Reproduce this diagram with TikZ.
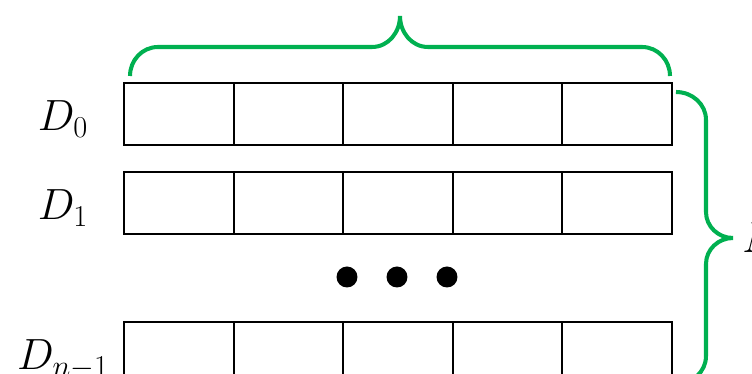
\documentclass[tikz,border=0pt]{standalone}
\usepackage{amsmath}
\definecolor{bracegreen}{RGB}{0,176,80}
\begin{document}
\begin{tikzpicture}[
  x=0.02cm, y=-0.02cm,
  font=\fontsize{26}{30}\selectfont,
  cell/.style  = {draw=black, line width=1.1pt, minimum width=2.192cm, minimum height=1.24cm, inner sep=0pt, outer sep=0pt},
  grp/.style   = {draw=bracegreen, line width=2.3pt},
  blob/.style  = {fill=black, circle, minimum size=0.42cm, inner sep=0pt},
  rowlbl/.style = {anchor=base, inner sep=0pt},
]
\useasboundingbox (0,0) rectangle (752,374);

\def\cx{124}     % left edge of the rows
\def\cw{109.6}   % width of one cell

% ---- rows of cells ---------------------------------------------------------
\foreach \r/\y in {0/114, 1/203, 2/353}
  \foreach \c in {1,...,5}
    \node[cell] (r\r c\c) at ({\cx+\cw*(\c-0.5)}, \y) {};

% ---- row labels ------------------------------------------------------------
\node[rowlbl] (d0) at (63, 131) {$D_0$};
\node[rowlbl] (d1) at (63, 220) {$D_1$};
\node[rowlbl] (dn) at (63, 370) {$D_{n-1}$};

% ---- dots ------------------------------------------------------------------
\foreach \i/\x in {1/347, 2/397, 3/447}
  \node[blob] (dot\i) at (\x, 277) {};

% ---- braces ----------------------------------------------------------------
\draw[grp] (130,76) to[out=90,in=180] (158,47) -- (372,47)
           to[out=0,in=-90] (400,16) to[out=-90,in=180] (428,47)
           -- (642,47) to[out=0,in=90] (670,76);
\draw[grp] (676,92) to[out=0,in=90] (706,120) -- (706,212)
           to[out=-90,in=180] (733,238) to[out=180,in=90] (706,264)
           -- (706,356) to[out=-90,in=0] (676,384);
\node[anchor=west, inner sep=0pt] (cnt) at (742, 238) {$N$};

\end{tikzpicture}
\end{document}
